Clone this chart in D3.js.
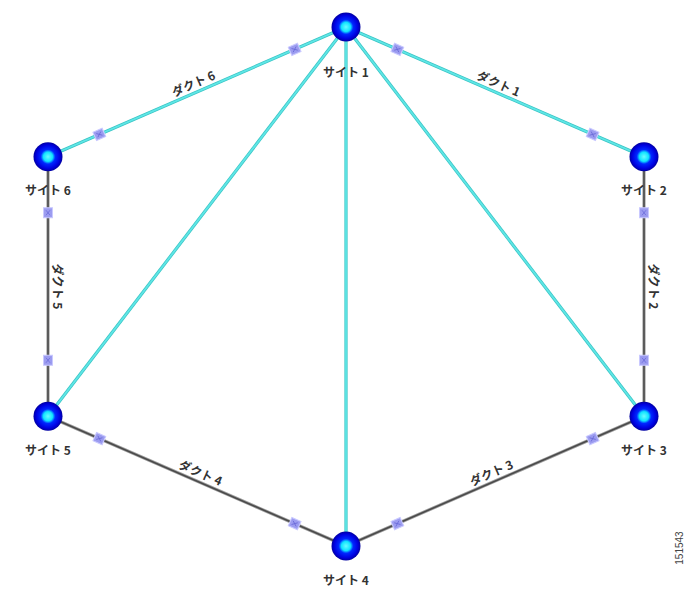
<!DOCTYPE html>
<html><head><meta charset="utf-8">
<script src="https://cdn.jsdelivr.net/npm/d3@7"></script>
<style>html,body{margin:0;padding:0;background:#fff;}svg{display:block;}</style>
</head><body>
<script>
// ---- data ----
const siteNames = ["サイト 1","サイト 2","サイト 3","サイト 4","サイト 5","サイト 6"];
const siteCol   = [1, 2, 2, 1, 0, 0];       // hexagon column (0..2)
const siteRow   = [0, 1, 3, 4, 3, 1];       // hexagon row (0..4)
const ductNames = ["ダクト 1","ダクト 2","ダクト 3","ダクト 4","ダクト 5","ダクト 6"];
const ductFrom  = [0, 1, 3, 4, 5, 5];       // label reads from -> to
const ductTo    = [1, 2, 2, 3, 4, 0];
const ductKind  = ["cyan","gray","gray","gray","gray","cyan"];
const crossFrom = [0, 0, 0];
const crossTo   = [2, 3, 4];
const watermark = "151543";

const W = 684, H = 589;
const svg = d3.select("body").append("svg").attr("width", W).attr("height", H);
const x = d3.scaleLinear().domain([0, 2]).range([48, 644]);
const y = d3.scaleLinear().domain([0, 4]).range([27, 546]);
const px = i => x(siteCol[i]), py = i => y(siteRow[i]);

const defs = svg.append("defs");
const g = defs.append("radialGradient").attr("id", "node");
[[0,"#6afcff"],[0.32,"#10e4ff"],[0.5,"#0028ff"],[0.82,"#0000e0"],[1,"#0000a0"]]
  .forEach(([o,c]) => g.append("stop").attr("offset", o).attr("stop-color", c));

function drawLine(a, b, kind) {
  const pair = kind === "cyan" ? [["#38c4c4", 3.2], ["#5fe6e6", 1.8]] : [["#a0a0a0", 3.2], ["#4a4a4a", 1.6]];
  pair.forEach(([c, w]) => svg.append("line")
    .attr("x1",px(a)).attr("y1",py(a)).attr("x2",px(b)).attr("y2",py(b))
    .attr("stroke",c).attr("stroke-width",w));
}

// cross links
crossFrom.forEach((f, i) => drawLine(f, crossTo[i], "cyan"));
// ducts
ductNames.forEach((name, i) => {
  const a = ductFrom[i], b = ductTo[i];
  drawLine(a, b, ductKind[i]);
  const x1 = px(a), y1 = py(a), x2 = px(b), y2 = py(b);
  const len = Math.hypot(x2 - x1, y2 - y1);
  const ux = (x2 - x1) / len, uy = (y2 - y1) / len;
  const ang = Math.atan2(uy, ux) * 180 / Math.PI;
  [56, len - 56].forEach(d => {
    const mx = x1 + ux * d, my = y1 + uy * d;
    const m = svg.append("g").attr("transform", `translate(${mx},${my}) rotate(${ang})`);
    m.append("rect").attr("x",-5).attr("y",-4.5).attr("width",10).attr("height",9)
      .attr("fill","#9c9cf0").attr("stroke","#c9c9ff").attr("stroke-width",1);
    m.append("path").attr("d","M-2.5,-2 L2.5,2 M-2.5,2 L2.5,-2").attr("stroke","#6a6ad8").attr("stroke-width",0.8);
  });
  // label, offset to the left of direction
  const nx = uy, ny = -ux;
  const cx = (x1 + x2) / 2 + nx * 10, cy = (y1 + y2) / 2 + ny * 10;
  svg.append("text").attr("transform", `translate(${cx},${cy}) rotate(${ang})`)
    .attr("text-anchor","middle").attr("dominant-baseline","central")
    .attr("font-family","'Noto Sans CJK JP', sans-serif").attr("font-weight","bold")
    .attr("font-size",12).attr("fill","#333").text(name);
});

// nodes
siteNames.forEach((name, i) => {
  svg.append("circle").attr("cx", px(i)).attr("cy", py(i)).attr("r", 14.5).attr("fill", "url(#node)");
  svg.append("text").attr("x", px(i)).attr("y", py(i) + (i === 0 ? 44 : 33))
    .attr("text-anchor","middle").attr("dominant-baseline","central")
    .attr("font-family","'Noto Sans CJK JP', sans-serif").attr("font-weight","bold")
    .attr("font-size",12).attr("fill","#333").text(name);
});

svg.append("text").attr("transform", `translate(679,548) rotate(-90)`)
  .attr("text-anchor","middle").attr("dominant-baseline","central")
  .attr("font-family","'Liberation Sans', sans-serif").attr("font-size",10)
  .attr("fill","#444").text(watermark);
</script>
</body></html>
